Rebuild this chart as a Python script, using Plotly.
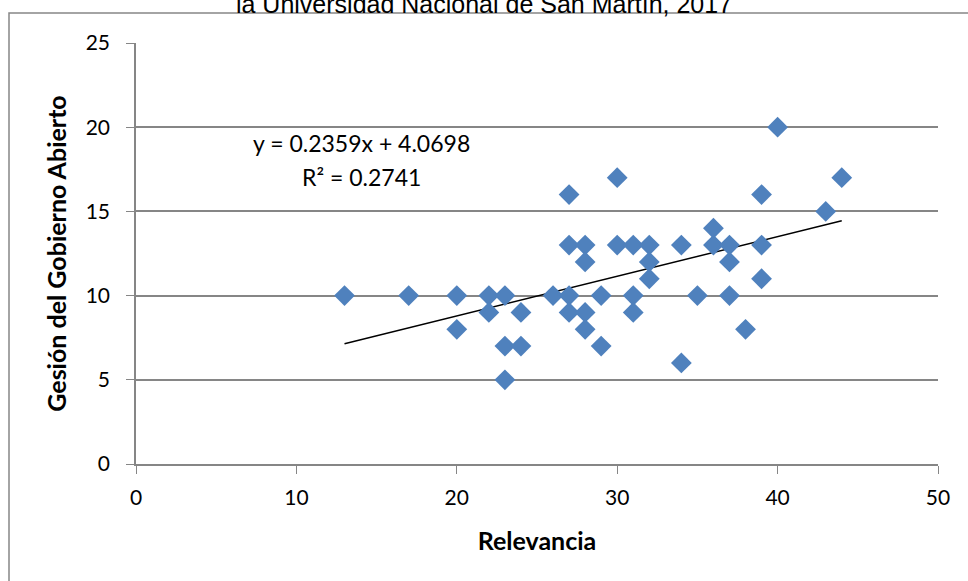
import plotly.graph_objects as go

relevancia = [13, 17, 20, 20, 22, 22, 23, 23, 23, 24, 24, 26, 27, 27, 27, 27,
              28, 28, 28, 28, 29, 29, 30, 30, 31, 31, 31, 32, 32, 32, 34, 34,
              35, 36, 36, 37, 37, 37, 38, 39, 39, 39, 40, 43, 44]
gestion = [10, 10, 10, 8, 10, 9, 10, 7, 5, 9, 7, 10, 16, 13, 10, 9,
           13, 12, 9, 8, 10, 7, 17, 13, 13, 10, 9, 13, 12, 11, 13, 6,
           10, 14, 13, 13, 12, 10, 8, 16, 13, 11, 20, 15, 17]
slope = 0.2359
intercept = 4.0698
r2 = 0.2741
x_ticks = [0, 10, 20, 30, 40, 50]
y_ticks = [0, 5, 10, 15, 20, 25]

title_text = "la Universidad Nacional de San Martín, 2017"
x_title = "Relevancia"
y_title = "Gesión del Gobierno Abierto"

FONT = "Lato, Carlito, sans-serif"
tick_font = dict(family=FONT, size=21, color="#000000")

fig = go.Figure()
xmin, xmax = min(relevancia), max(relevancia)
fig.add_trace(go.Scatter(
    x=[xmin, xmax], y=[slope * xmin + intercept, slope * xmax + intercept],
    mode="lines", line=dict(color="#000000", width=1.5), hoverinfo="skip",
    showlegend=False))
fig.add_trace(go.Scatter(
    x=relevancia, y=gestion, mode="markers",
    marker=dict(symbol="diamond", size=16, color="#4F81BD", line=dict(width=0)),
    showlegend=False))

fig.update_layout(
    width=968, height=581,
    margin=dict(l=136, r=30, t=43, b=117),
    paper_bgcolor="white", plot_bgcolor="white",
    title=dict(text=title_text, x=0.5, xanchor="center", xref="container",
               y=1 - 4 / 581, yanchor="middle", yref="container",
               font=dict(family="Arial, Liberation Sans", size=25, color="#000000")),
    xaxis=dict(range=[0, 50], tickvals=x_ticks, showgrid=False, zeroline=False,
               showline=True, linecolor="#868686", linewidth=1.5,
               ticks="outside", ticklen=8, tickcolor="#868686", tickfont=tick_font,
               ticklabelstandoff=6,
               title=dict(text="<b>" + x_title + "</b>", standoff=25,
                          font=dict(family=FONT, size=25, color="#000000"))),
    yaxis=dict(range=[0, 25], tickvals=y_ticks, showgrid=True, gridcolor="#868686",
               gridwidth=1.5, zeroline=False,
               showline=True, linecolor="#868686", linewidth=1.5,
               ticks="outside", ticklen=8, tickcolor="#868686", tickfont=tick_font,
               ticklabelstandoff=12,
               title=dict(text="<b>" + y_title + "</b>", standoff=12,
                          font=dict(family=FONT, size=25, color="#000000"))),
    shapes=[dict(type="rect", xref="paper", yref="paper",
                 x0=(9 - 136) / 802, x1=1.2, y0=-0.5, y1=(464 - 13) / 421,
                 line=dict(color="#868686", width=1.5), fillcolor="rgba(0,0,0,0)",
                 layer="below")],
    annotations=[
        dict(x=(361 - 136) / 802, y=(464 - 143) / 421, xref="paper", yref="paper",
             xanchor="center", yanchor="middle",
             text=f"y = {slope}x + {intercept}", showarrow=False,
             font=dict(family=FONT, size=23, color="#000000")),
        dict(x=(361 - 136) / 802, y=(464 - 177) / 421, xref="paper", yref="paper",
             xanchor="center", yanchor="middle",
             text=f"R² = {r2}", showarrow=False,
             font=dict(family=FONT, size=23, color="#000000")),
    ],
)

fig.write_html("out.html", config={"displayModeBar": False},
               post_script="document.body.style.margin='0';document.body.style.overflow='hidden';")
